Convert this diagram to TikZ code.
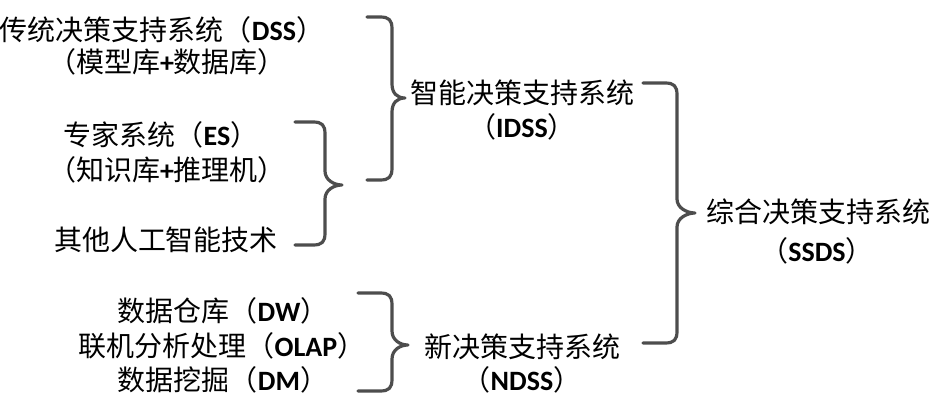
\documentclass[tikz,border=0pt]{standalone}
\usepackage{fontspec}
\setmainfont{Noto Sans CJK SC}
\newfontfamily\latfont{Carlito}
\newcommand\B[1]{{\latfont\bfseries #1}}
\newcommand\mybrace[6]{%
\draw[bracestyle] (#1,#2) -- ({#4-12},#2) .. controls ({#4-3},#2) and (#4,{#2+3}) .. (#4,{#2+12})
 -- (#4,{#6-14}) .. controls (#4,{#6-5}) and ({#5-8},#6) .. (#5,#6)
 .. controls ({#5-8},#6) and (#4,{#6+5}) .. (#4,{#6+14})
 -- (#4,{#3-12}) .. controls (#4,{#3-3}) and ({#4-3},#3) .. ({#4-12},#3) -- (#1,#3);}
\begin{document}
\begin{tikzpicture}[x=1pt,y=-1pt,
  bracestyle/.style={draw=braceg,line width=3.2pt,line cap=round,line join=round},
  txt/.style={inner sep=0pt,anchor=base,font=\fontsize{28}{32}\selectfont}]
\definecolor{braceg}{HTML}{4D4D4D}
\useasboundingbox[fill=white] (0,0) rectangle (930,396);
% left column
\node[txt] (t1) at (162,41) {传统决策支持系统（\B{DSS}）};
\node[txt] (t2) at (167,73) {（模型库\B{+}数据库）};
\node[txt] (t3) at (161,145) {专家系统（\B{ES}）};
\node[txt] (t4) at (167,180) {（知识库\B{+}推理机）};
\node[txt] (t5) at (166,250) {其他人工智能技术};
\node[txt] (t6) at (223,321) {数据仓库（\B{DW}）};
\node[txt] (t7) at (222,356) {联机分析处理（\B{OLAP}）};
\node[txt] (t8) at (223,390) {数据挖掘（\B{DM}）};
% middle column
\node[txt] (i1) at (522,103) {智能决策支持系统};
\node[txt] (i2) at (522,138) {（\B{IDSS}）};
\node[txt] (n1) at (522,357) {新决策支持系统};
\node[txt] (n2) at (522,390) {（\B{NDSS}）};
% right column
\node[txt] (s1) at (818,222) {综合决策支持系统};
\node[txt] (s2) at (817,261) {（\B{SSDS}）};
% braces
\mybrace{367}{17}{180}{392}{405}{98}
\mybrace{295}{122}{245}{325}{342}{185}
\mybrace{358}{293}{391}{392}{408}{345}
\mybrace{643}{83}{343}{677}{695}{213}
\end{tikzpicture}
\end{document}
